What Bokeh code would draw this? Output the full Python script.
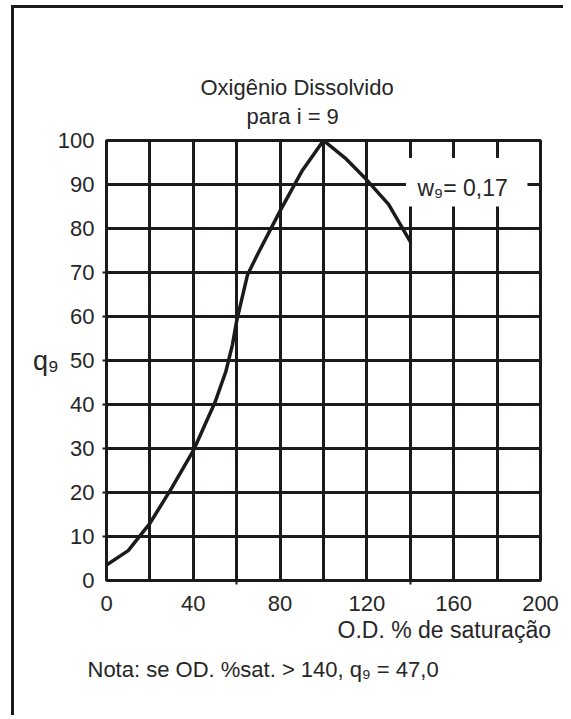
from bokeh.plotting import figure
from bokeh.models import FixedTicker, BoxAnnotation, Range1d, Title, Label
from bokeh.embed import file_html
from bokeh.resources import INLINE

# ---- data ----
od_sat = [0, 10, 20, 30, 40, 45, 50, 55, 58, 60, 65, 70, 80, 90, 100, 110, 120, 130, 140]
q9 = [3.5, 6.8, 13.0, 21.0, 29.5, 35.0, 40.5, 47.5, 53.5, 59.0, 69.5, 74.5, 84.0, 93.0, 100.0, 96.0, 91.0, 85.5, 77.0]

x_label_ticks = [0, 40, 80, 120, 160, 200]
x_grid_ticks = [0, 20, 40, 60, 80, 100, 120, 140, 160, 180, 200]
x_stub_ticks = [60, 140]
y_ticks = [0, 10, 20, 30, 40, 50, 60, 70, 80, 90, 100]
y_stub_ticks = [10, 20, 30, 40, 50, 60, 70]

title_line1 = "Oxigênio Dissolvido"
title_line2 = "para i = 9"
x_title = "O.D. % de saturação"
y_title = "q₉"
weight_text = "w₉= 0,17"
note_text = "Nota: se OD. %sat. > 140, q₉ =  47,0"

INK = "#1c1a1a"
TXT = "#262626"
FONT = "Liberation Sans"
FS = "22px"

p = figure(width=552, height=710, output_backend="svg", toolbar_location=None,
           x_range=Range1d(0, 200), y_range=Range1d(0, 100),
           min_border_left=92, min_border_right=26,
           min_border_top=132, min_border_bottom=138)
p.styles = {"border-left": "3px solid #1c1a1a", "border-top": "3px solid #1c1a1a",
            "margin-left": "11px", "margin-top": "5px"}

p.background_fill_color = "white"
p.border_fill_color = "white"
p.outline_line_color = INK
p.outline_line_width = 3
p.outline_line_alpha = 1

# grid
p.xgrid.ticker = FixedTicker(ticks=x_grid_ticks)
p.ygrid.ticker = FixedTicker(ticks=y_ticks)
for g in (p.xgrid, p.ygrid):
    g.grid_line_color = INK
    g.grid_line_width = 3
    g.grid_line_alpha = 1

# axes: labels on major ticks, the little stubs as minor ticks
p.xaxis.ticker = FixedTicker(ticks=x_label_ticks, minor_ticks=x_stub_ticks)
p.yaxis.ticker = FixedTicker(ticks=y_ticks, minor_ticks=y_stub_ticks)
for ax in (p.xaxis, p.yaxis):
    ax.axis_line_color = None
    ax.major_label_text_font = FONT
    ax.major_label_text_font_size = FS
    ax.major_label_text_color = TXT
    ax.major_tick_in = 0
    ax.major_tick_out = 0
    ax.major_tick_line_color = None
    ax.minor_tick_in = 0
    ax.minor_tick_out = 4
    ax.minor_tick_line_width = 2
    ax.minor_tick_line_color = INK
p.xaxis.major_label_standoff = 11
p.yaxis.major_label_standoff = 8

# y title (q9), horizontal, left of the tick labels
p.yaxis.axis_label = y_title
p.yaxis.axis_label_orientation = "horizontal"
p.yaxis.axis_label_text_font = FONT
p.yaxis.axis_label_text_font_size = "27px"
p.yaxis.axis_label_text_font_style = "normal"
p.yaxis.axis_label_text_color = TXT
p.yaxis.axis_label_standoff = -4

# titles above the chart (first added is nearest the frame)
def title(text, place, offset, standoff, size=FS, valign="bottom"):
    p.add_layout(Title(text=text, align="left", offset=offset, standoff=standoff,
                       vertical_align=valign, text_font=FONT, text_font_size=size,
                       text_font_style="normal", text_color=TXT), place)

title(" ", "above", 0, 9, size="1px")
title(title_line2, "above", 140, 0, size=FS)
title(title_line1, "above", 94, 3, size=FS)

# texts below the chart
title(x_title, "below", 231, 6, size="23px", valign="top")
title(note_text, "below", -19, 19, size=FS, valign="top")

# white box behind the weight label
p.add_layout(BoxAnnotation(left=138, right=194, bottom=85, top=96,
                           fill_color="white", fill_alpha=1, line_color=None))

# curve
p.line(od_sat, q9, line_width=3.5, line_color=INK, line_join="round", line_cap="round")

p.add_layout(Label(x=143.3, y=89.1, text=weight_text, text_font=FONT,
                   text_font_size="23px", text_color=TXT,
                   text_align="left", text_baseline="alphabetic"))

open("out.html", "w").write(file_html(p, INLINE))
